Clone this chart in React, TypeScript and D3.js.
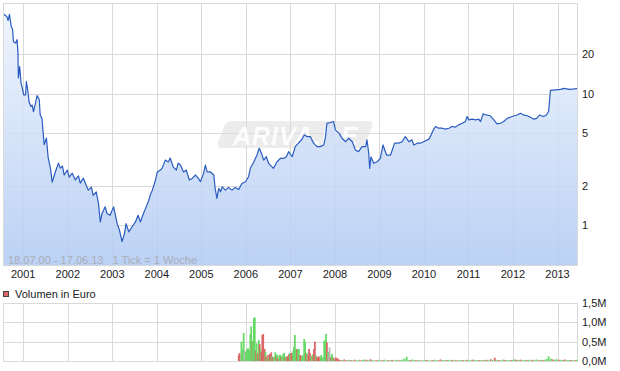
import { useMemo } from "react";
import * as d3 from "d3";

// weekly closing prices (decimal year, EUR)
const priceData: [number, number][] = [
  [2000.54, 40.8], [2000.63, 38.7], [2000.66, 36.1], [2000.69, 40.1], [2000.73, 32.5],
  [2000.76, 30.8], [2000.78, 24.9], [2000.83, 24.3], [2000.86, 25.8], [2000.88, 20.9],
  [2000.89, 13.2], [2000.92, 16.1], [2000.95, 12.1], [2000.98, 11.0], [2001.01, 9.8],
  [2001.05, 9.8], [2001.07, 12.4], [2001.1, 10.7], [2001.13, 8.7], [2001.17, 8.0],
  [2001.2, 8.2], [2001.23, 7.3], [2001.26, 8.1], [2001.29, 9.0], [2001.31, 9.7],
  [2001.36, 9.0], [2001.38, 6.9], [2001.42, 6.5], [2001.47, 4.1], [2001.52, 4.6],
  [2001.56, 3.25], [2001.61, 2.72], [2001.65, 2.13], [2001.72, 2.54], [2001.79, 2.97],
  [2001.83, 2.72], [2001.88, 2.82], [2001.92, 2.41], [2001.99, 2.63], [2002.03, 2.32],
  [2002.1, 2.49], [2002.17, 2.21], [2002.24, 2.37], [2002.28, 2.09], [2002.35, 2.28],
  [2002.42, 1.99], [2002.46, 1.85], [2002.53, 1.95], [2002.57, 1.69], [2002.64, 1.79],
  [2002.69, 1.47], [2002.73, 1.06], [2002.77, 1.23], [2002.84, 1.38], [2002.88, 1.23],
  [2002.95, 1.19], [2003.03, 1.38], [2003.11, 1.03], [2003.16, 0.92], [2003.22, 0.75],
  [2003.27, 0.86], [2003.31, 1.03], [2003.37, 0.89], [2003.44, 0.97], [2003.52, 1.06],
  [2003.58, 1.19], [2003.63, 1.06], [2003.7, 1.23], [2003.76, 1.38], [2003.82, 1.55],
  [2003.85, 1.69], [2003.9, 1.85], [2003.97, 2.21], [2004.01, 2.54], [2004.08, 2.63],
  [2004.12, 2.72], [2004.19, 3.13], [2004.26, 3.03], [2004.3, 3.25], [2004.37, 2.77],
  [2004.44, 2.63], [2004.48, 2.97], [2004.53, 2.87], [2004.6, 2.54], [2004.66, 2.63],
  [2004.73, 2.21], [2004.8, 2.28], [2004.87, 2.41], [2004.93, 2.28], [2004.98, 2.15],
  [2005.05, 2.48], [2005.09, 2.87], [2005.13, 2.55], [2005.2, 2.55], [2005.28, 2.41],
  [2005.31, 1.91], [2005.35, 1.6], [2005.39, 1.91], [2005.43, 1.8], [2005.47, 1.96],
  [2005.54, 1.85], [2005.61, 1.94], [2005.69, 1.85], [2005.76, 1.94], [2005.84, 1.87],
  [2005.91, 2.08], [2005.99, 2.14], [2006.06, 2.34], [2006.1, 2.71], [2006.18, 3.04],
  [2006.25, 3.42], [2006.3, 3.85], [2006.35, 3.53], [2006.4, 3.13], [2006.46, 3.32],
  [2006.51, 2.96], [2006.57, 2.82], [2006.62, 2.71], [2006.7, 3.04], [2006.78, 3.23],
  [2006.85, 3.23], [2006.91, 3.32], [2006.96, 3.63], [2007.04, 3.32], [2007.11, 3.96],
  [2007.19, 4.25], [2007.26, 4.51], [2007.31, 4.86], [2007.38, 4.72], [2007.45, 4.72],
  [2007.52, 4.21], [2007.6, 3.96], [2007.67, 3.96], [2007.75, 4.08], [2007.79, 4.72],
  [2007.82, 5.97], [2007.9, 6.04], [2007.97, 6.15], [2008.01, 5.31], [2008.09, 5.02],
  [2008.16, 4.59], [2008.24, 4.32], [2008.31, 4.59], [2008.39, 4.32], [2008.46, 3.74],
  [2008.53, 3.63], [2008.61, 3.96], [2008.69, 3.96], [2008.72, 4.46], [2008.76, 3.53],
  [2008.78, 2.71], [2008.81, 3.32], [2008.87, 2.96], [2008.95, 3.04], [2009.02, 3.23],
  [2009.08, 4.08], [2009.16, 3.42], [2009.25, 3.42], [2009.34, 4.21], [2009.43, 4.21],
  [2009.51, 4.32], [2009.58, 4.72], [2009.66, 4.32], [2009.73, 4.46], [2009.77, 4.08],
  [2009.85, 4.21], [2009.92, 4.21], [2009.99, 4.32], [2010.11, 4.52], [2010.16, 4.86],
  [2010.21, 5.31], [2010.26, 5.64], [2010.33, 5.47], [2010.41, 5.47], [2010.48, 5.38],
  [2010.56, 5.47], [2010.63, 5.64], [2010.71, 5.58], [2010.78, 5.8], [2010.86, 5.97],
  [2010.93, 6.15], [2010.97, 6.71], [2011.01, 6.33], [2011.08, 6.41], [2011.16, 6.33],
  [2011.23, 6.41], [2011.27, 6.15], [2011.33, 7.03], [2011.4, 6.9], [2011.49, 6.8],
  [2011.57, 6.33], [2011.64, 5.9], [2011.72, 5.97], [2011.79, 6.15], [2011.87, 6.5],
  [2011.98, 6.71], [2012.09, 6.9], [2012.17, 7.1], [2012.24, 6.9], [2012.32, 6.8],
  [2012.39, 6.63], [2012.47, 6.41], [2012.53, 6.5], [2012.6, 6.9], [2012.68, 6.71],
  [2012.75, 6.9], [2012.8, 7.36], [2012.84, 10.6], [2012.96, 10.7], [2013.07, 10.8],
  [2013.14, 11.0], [2013.27, 10.8], [2013.38, 10.9], [2013.46, 11.0],
];

// weekly turnover in thousand EUR, u = up week, d = down week, n = unchanged
const volumeData: [number, number, string][] = [
  [2005.84, 155, "d"], [2005.86, 207, "d"], [2005.9, 500, "u"], [2005.93, 293, "u"],
  [2005.95, 723, "u"], [2005.97, 267, "n"], [2006.0, 241, "u"], [2006.03, 310, "u"],
  [2006.05, 327, "u"], [2006.08, 267, "u"], [2006.1, 697, "u"], [2006.12, 895, "u"],
  [2006.15, 500, "d"], [2006.16, 525, "u"], [2006.18, 1111, "u"], [2006.2, 1128, "u"],
  [2006.22, 267, "d"], [2006.24, 456, "u"], [2006.27, 198, "d"], [2006.29, 542, "u"],
  [2006.31, 439, "d"], [2006.33, 310, "u"], [2006.35, 241, "d"], [2006.37, 672, "d"],
  [2006.39, 697, "d"], [2006.42, 310, "d"], [2006.44, 241, "u"], [2006.46, 112, "d"],
  [2006.48, 69, "u"], [2006.5, 155, "d"], [2006.52, 121, "u"], [2006.54, 181, "d"],
  [2006.57, 224, "d"], [2006.59, 121, "u"], [2006.61, 95, "d"], [2006.63, 95, "u"],
  [2006.66, 224, "u"], [2006.68, 121, "d"], [2006.7, 164, "u"], [2006.72, 69, "d"],
  [2006.75, 138, "u"], [2006.77, 164, "u"], [2006.79, 95, "d"], [2006.81, 121, "u"],
  [2006.84, 181, "u"], [2006.86, 207, "u"], [2006.88, 95, "d"], [2006.9, 112, "u"],
  [2006.93, 121, "d"], [2006.95, 121, "d"], [2006.97, 181, "d"], [2006.99, 198, "u"],
  [2007.02, 207, "d"], [2007.04, 155, "d"], [2007.06, 250, "u"], [2007.08, 370, "u"],
  [2007.1, 672, "u"], [2007.13, 310, "u"], [2007.15, 310, "d"], [2007.17, 310, "u"],
  [2007.19, 310, "u"], [2007.22, 155, "d"], [2007.24, 121, "d"], [2007.26, 95, "u"],
  [2007.28, 155, "u"], [2007.31, 568, "u"], [2007.33, 500, "u"], [2007.35, 181, "d"],
  [2007.37, 207, "u"], [2007.4, 155, "d"], [2007.42, 310, "d"], [2007.44, 207, "d"],
  [2007.46, 121, "u"], [2007.49, 138, "d"], [2007.51, 181, "u"], [2007.53, 310, "d"],
  [2007.55, 500, "d"], [2007.58, 138, "u"], [2007.6, 95, "d"], [2007.62, 95, "d"],
  [2007.64, 121, "d"], [2007.67, 69, "d"], [2007.69, 155, "u"], [2007.71, 95, "u"],
  [2007.73, 95, "u"], [2007.76, 525, "u"], [2007.78, 525, "u"], [2007.8, 697, "u"],
  [2007.82, 482, "d"], [2007.85, 241, "u"], [2007.87, 95, "n"], [2007.88, 353, "n"],
  [2007.9, 95, "d"], [2007.93, 181, "u"], [2007.95, 121, "u"], [2007.97, 69, "d"],
  [2007.99, 34, "u"], [2008.02, 95, "d"], [2008.04, 52, "d"], [2008.06, 69, "d"],
  [2008.08, 34, "d"],
  [2008.12, 30, "d"], [2008.17, 25, "u"], [2008.21, 40, "d"], [2008.26, 20, "d"],
  [2008.3, 30, "u"], [2008.35, 25, "d"], [2008.39, 20, "u"], [2008.44, 35, "d"],
  [2008.48, 15, "u"], [2008.53, 30, "u"], [2008.57, 20, "d"], [2008.62, 25, "u"],
  [2008.66, 40, "u"], [2008.71, 30, "d"], [2008.75, 20, "u"], [2008.8, 45, "d"],
  [2008.84, 25, "u"], [2008.89, 15, "u"], [2008.93, 20, "d"], [2008.98, 30, "u"],
  [2009.02, 20, "u"], [2009.07, 25, "d"], [2009.11, 35, "u"], [2009.16, 15, "u"],
  [2009.2, 20, "d"], [2009.25, 25, "u"], [2009.29, 30, "d"], [2009.34, 20, "u"],
  [2009.38, 30, "u"], [2009.43, 20, "d"], [2009.47, 25, "u"], [2009.52, 35, "u"],
  [2009.56, 60, "u"], [2009.61, 110, "u"], [2009.65, 30, "u"], [2009.7, 25, "d"],
  [2009.74, 40, "u"], [2009.79, 25, "u"], [2009.83, 20, "d"], [2009.88, 30, "u"],
  [2009.92, 15, "d"], [2009.97, 20, "u"], [2010.01, 25, "u"], [2010.06, 30, "d"],
  [2010.1, 20, "u"], [2010.15, 15, "u"], [2010.19, 25, "d"], [2010.24, 30, "u"],
  [2010.28, 20, "u"], [2010.33, 20, "d"], [2010.37, 40, "d"], [2010.42, 25, "u"],
  [2010.46, 20, "u"], [2010.51, 25, "d"], [2010.55, 30, "u"], [2010.6, 20, "u"],
  [2010.64, 30, "d"], [2010.69, 25, "u"], [2010.73, 20, "d"], [2010.78, 20, "u"],
  [2010.82, 30, "u"], [2010.87, 25, "d"], [2010.91, 20, "u"], [2010.96, 30, "d"],
  [2011.0, 25, "u"], [2011.05, 20, "u"], [2011.09, 35, "d"], [2011.14, 30, "u"],
  [2011.18, 20, "u"], [2011.23, 25, "d"], [2011.27, 25, "u"], [2011.32, 20, "d"],
  [2011.36, 30, "u"], [2011.41, 30, "d"], [2011.45, 20, "u"], [2011.5, 45, "d"],
  [2011.54, 25, "u"], [2011.59, 85, "d"], [2011.63, 30, "u"], [2011.68, 25, "d"],
  [2011.72, 20, "u"], [2011.77, 35, "u"], [2011.81, 30, "d"], [2011.86, 25, "u"],
  [2011.9, 20, "u"], [2011.95, 25, "d"], [2011.99, 30, "u"], [2012.04, 40, "u"],
  [2012.08, 30, "d"], [2012.13, 25, "u"], [2012.17, 35, "d"], [2012.22, 20, "u"],
  [2012.26, 30, "u"], [2012.31, 25, "d"], [2012.35, 35, "u"], [2012.4, 20, "u"],
  [2012.44, 30, "d"], [2012.49, 25, "u"], [2012.53, 40, "u"], [2012.58, 20, "d"],
  [2012.62, 30, "u"], [2012.67, 25, "d"], [2012.71, 35, "u"], [2012.76, 50, "u"],
  [2012.8, 120, "u"], [2012.85, 60, "u"], [2012.89, 40, "d"], [2012.94, 35, "u"],
  [2012.98, 45, "u"], [2013.03, 30, "d"], [2013.07, 30, "u"], [2013.12, 25, "u"],
  [2013.16, 40, "d"], [2013.21, 20, "u"], [2013.25, 30, "u"], [2013.3, 25, "d"],
  [2013.34, 20, "u"], [2013.39, 20, "d"], [2013.43, 30, "u"],
];

const yearTicks = d3.range(2001, 2014);
const priceTicks = [1, 2, 5, 10, 20];
const volumeTicks = [0, 500, 1000, 1500];

const W = 620;
const H = 371;
const plot = { left: 3, right: 578, top: 3, bottom: 266 };
const vol = { top: 303, bottom: 361 };
const FONT = "'Liberation Sans', Arial, sans-serif";
const GRID = "#d9d9d9";
const barColor: Record<string, string> = { u: "#66d966", d: "#dd6666", n: "#bbbbbb" };

export default function App() {
  const x = useMemo(
    () => d3.scaleLinear().domain([2000.545, 2013.46]).range([plot.left, plot.right]),
    []
  );
  const y = useMemo(
    () => d3.scaleLog().domain([0.49, 49]).range([plot.bottom, plot.top]),
    []
  );
  const yv = useMemo(
    () => d3.scaleLinear().domain([0, 1500]).range([vol.bottom, vol.top]),
    []
  );

  const line = d3.line<[number, number]>().x((d) => x(d[0])).y((d) => y(d[1]));
  const area = d3
    .area<[number, number]>()
    .x((d) => x(d[0]))
    .y0(plot.bottom)
    .y1((d) => y(d[1]));

  const px = (v: number) => Math.round(v) + 0.5;
  const volLabel = (v: number) => (v / 1000).toFixed(1).replace(".", ",") + "M";

  return (
    <svg
      width={W}
      height={H}
      style={{ position: "absolute", left: 0, top: 0, background: "#fff" }}
      fontFamily={FONT}
    >
      <defs>
        <linearGradient id="fillGrad" gradientUnits="userSpaceOnUse" x1={0} y1={plot.top} x2={0} y2={plot.bottom}>
          <stop offset="0%" stopColor="#eef4fd" stopOpacity={0.85} />
          <stop offset="100%" stopColor="#b2cbf3" stopOpacity={0.88} />
        </linearGradient>
        <clipPath id="plotClip">
          <rect x={plot.left} y={plot.top} width={plot.right - plot.left} height={plot.bottom - plot.top} />
        </clipPath>
      </defs>

      {/* ── price panel grid ── */}
      {yearTicks.map((yr) => (
        <line key={"gx" + yr} x1={px(x(yr))} x2={px(x(yr))} y1={plot.top} y2={plot.bottom} stroke={GRID} />
      ))}
      {priceTicks.map((t) => (
        <line key={"gy" + t} x1={plot.left} x2={plot.right} y1={px(y(t))} y2={px(y(t))} stroke={GRID} />
      ))}

      {/* ── watermark ── */}
      <path
        d="M232,121 L368,121 Q374,121 372,127 L366,142 Q364,148 358,148 L222,148 Q216,148 218,142 L224,127 Q226,121 232,121 Z"
        fill="#dcdcdc"
        opacity={0.55}
      />
      <text
        x={233}
        y={145}
        fontSize={25}
        fontWeight="bold"
        fontStyle="italic"
        fill="#ffffff"
        opacity={0.9}
        letterSpacing={1}
      >
        ARIVA.DE
      </text>

      {/* ── price area + line ── */}
      <g clipPath="url(#plotClip)">
        <path d={area(priceData) ?? ""} fill="url(#fillGrad)" />
        <path d={line(priceData) ?? ""} fill="none" stroke="#2a5cc0" strokeWidth={1.2} strokeLinejoin="round" />
      </g>
      <rect
        x={plot.left + 0.5}
        y={plot.top + 0.5}
        width={plot.right - plot.left - 1}
        height={plot.bottom - plot.top - 1}
        fill="none"
        stroke={GRID}
      />

      <text x={8} y={264} fontSize={11} fill="#a9aeb8">
        {"18.07.00 - 17.06.13\u00a0\u00a0\u00a01 Tick = 1 Woche"}
      </text>

      {/* ── axis labels ── */}
      {yearTicks.map((yr) => (
        <text key={"lx" + yr} x={x(yr)} y={278} fontSize={11} textAnchor="middle" fill="#222">
          {yr}
        </text>
      ))}
      {priceTicks.map((t) => (
        <text key={"ly" + t} x={582} y={y(t)} dy="0.35em" fontSize={11} fill="#222">
          {t}
        </text>
      ))}

      {/* ── legend ── */}
      <rect x={3.5} y={291.5} width={5} height={5} fill="#dd6666" stroke="#444" strokeWidth={1} />
      <text x={15} y={298} fontSize={11} fill="#222">
        Volumen in Euro
      </text>

      {/* ── volume panel ── */}
      {yearTicks.map((yr) => (
        <line key={"vx" + yr} x1={px(x(yr))} x2={px(x(yr))} y1={vol.top} y2={vol.bottom} stroke={GRID} />
      ))}
      {volumeTicks.map((t) => (
        <line key={"vy" + t} x1={plot.left} x2={plot.right} y1={px(yv(t))} y2={px(yv(t))} stroke={GRID} />
      ))}
      <line x1={plot.left + 0.5} x2={plot.left + 0.5} y1={vol.top} y2={vol.bottom} stroke={GRID} />
      <line x1={plot.right - 0.5} x2={plot.right - 0.5} y1={vol.top} y2={vol.bottom} stroke={GRID} />
      {volumeData.map(([yr, v, dir], i) => (
        <rect
          key={"b" + i}
          x={x(yr) - 0.9}
          width={1.8}
          y={yv(v)}
          height={yv(0) - yv(v)}
          fill={barColor[dir]}
        />
      ))}
      {volumeTicks.map((t) => (
        <text key={"lv" + t} x={582} y={yv(t)} dy="0.35em" fontSize={11} fill="#222">
          {volLabel(t)}
        </text>
      ))}
    </svg>
  );
}
